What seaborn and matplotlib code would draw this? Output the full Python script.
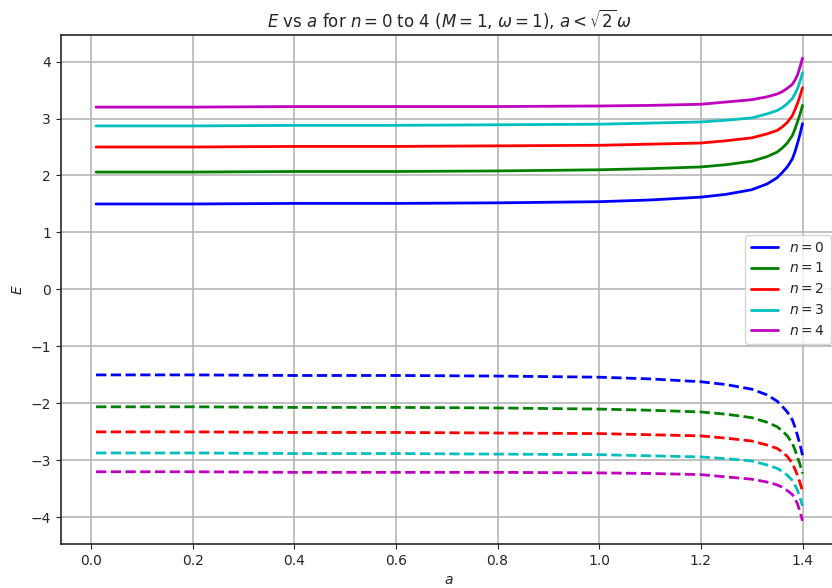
import numpy as np
import pandas as pd
import seaborn as sns
import matplotlib
matplotlib.use("Agg")
import matplotlib.pyplot as plt

# values (upper branch, lower branch is its mirror)
a_vals = [0.01, 0.2, 0.4, 0.6, 0.8, 1.0, 1.1, 1.2, 1.25, 1.3, 1.33, 1.35, 1.36, 1.37, 1.38, 1.385, 1.39, 1.395, 1.40]
E_n0 = [1.50, 1.50, 1.51, 1.51, 1.52, 1.54, 1.57, 1.62, 1.67, 1.75, 1.85, 1.96, 2.05, 2.15, 2.29, 2.41, 2.56, 2.72, 2.91]
E_n1 = [2.06, 2.06, 2.07, 2.07, 2.08, 2.10, 2.12, 2.15, 2.19, 2.25, 2.33, 2.41, 2.48, 2.57, 2.70, 2.81, 2.94, 3.07, 3.23]
E_n2 = [2.50, 2.50, 2.51, 2.51, 2.52, 2.53, 2.55, 2.57, 2.61, 2.66, 2.73, 2.79, 2.85, 2.93, 3.05, 3.15, 3.26, 3.39, 3.54]
E_n3 = [2.87, 2.87, 2.88, 2.88, 2.89, 2.90, 2.92, 2.94, 2.97, 3.01, 3.08, 3.14, 3.19, 3.26, 3.35, 3.43, 3.52, 3.65, 3.80]
E_n4 = [3.20, 3.20, 3.21, 3.21, 3.21, 3.22, 3.23, 3.25, 3.29, 3.33, 3.38, 3.43, 3.47, 3.53, 3.60, 3.67, 3.76, 3.90, 4.06]
labels = ["$n=0$", "$n=1$", "$n=2$", "$n=3$", "$n=4$"]
colors = ["b", "g", "r", "c", "m"]

rows = []
for lab, E in zip(labels, [E_n0, E_n1, E_n2, E_n3, E_n4]):
    for a, e in zip(a_vals, E):
        rows.append({"a": a, "E": e, "Eneg": -e, "n": lab})
df = pd.DataFrame(rows)

sns.set_style("ticks")
plt.rcParams["font.family"] = ["DejaVu Sans"]

fig = plt.figure(figsize=(8.32, 5.88), dpi=100)
ax = fig.add_axes([0.073, 0.075, 0.934, 0.8655])

sns.lineplot(data=df, x="a", y="E", hue="n", palette=colors, linewidth=2, ax=ax)
sns.lineplot(data=df, x="a", y="Eneg", hue="n", palette=colors, linewidth=2,
             linestyle="--", legend=False, ax=ax)

ax.grid(True, color="#b0b0b0", linewidth=1.1)
for s in ax.spines.values():
    s.set_linewidth(1.2)
ax.set_xlabel("$a$")
ax.set_ylabel("$E$")
ax.set_title(r"$E$ vs $a$ for $n=0$ to 4 ($M=1$, $\omega=1$), $a<\sqrt{2}\,\omega$", fontsize=12)
ax.set_xticks([0.0, 0.2, 0.4, 0.6, 0.8, 1.0, 1.2, 1.4])
ax.set_yticks([-4, -3, -2, -1, 0, 1, 2, 3, 4])
ax.legend(loc="center right", title=None)

fig.savefig("out.png", dpi=100)
